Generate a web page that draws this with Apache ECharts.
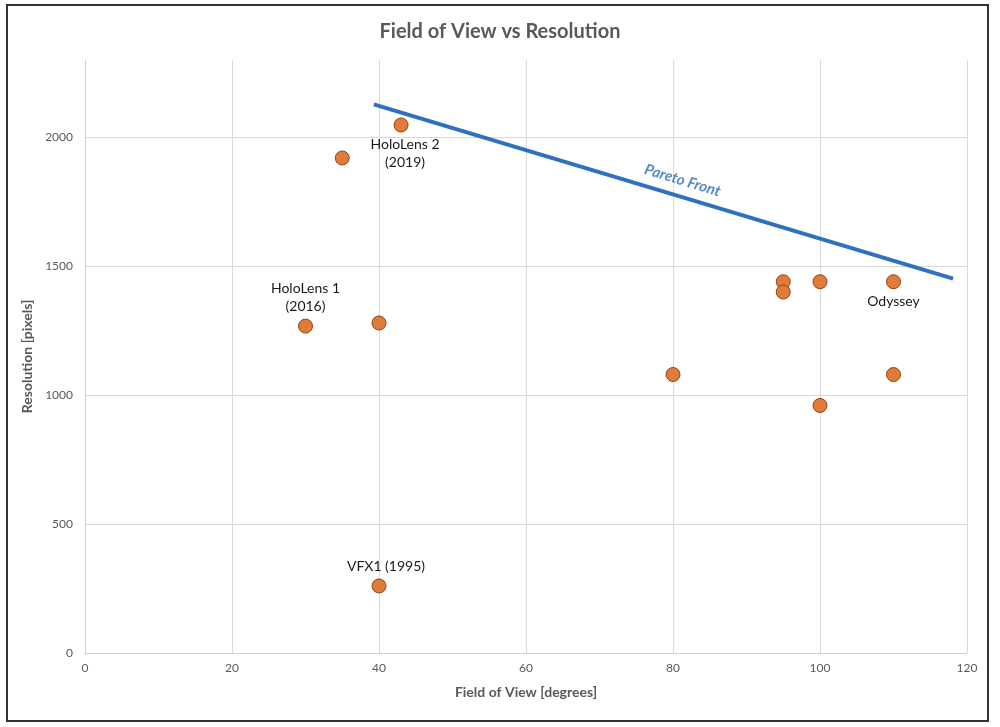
<!DOCTYPE html>
<html>
<head>
<meta charset="utf-8">
<script src="https://cdn.jsdelivr.net/npm/echarts@6/dist/echarts.min.js"></script>
<style>
html,body{margin:0;padding:0;background:#fff;}
#chart{width:1000px;height:727px;}
</style>
</head>
<body>
<div id="chart"></div>
<script>
// ---- data ----
const fov = [43, 35, 30, 40, 40, 80, 95, 95, 100, 100, 110, 110];
const resolution = [2048, 1920, 1268, 1280, 260, 1080, 1440, 1400, 1440, 960, 1440, 1080];
const pointLabels = ['HoloLens 2\n(2019)', '', 'HoloLens 1\n(2016)', '', 'VFX1 (1995)', '', '', '', '', '', 'Odyssey', ''];
const paretoX = [39.3, 118.1];
const paretoY = [2128, 1452];
const paretoLabel = 'Pareto Front';
const paretoLabelAt = [81.3, 1833];

const labelPlacement = {0: 'bottom', 2: 'top', 4: 'top', 10: 'bottom'};
const labelOffset = {0: [4, 0], 2: [0, 0], 4: [7, 0], 10: [0, 0]};

const font = 'Lato, "Noto Sans", sans-serif';
const scatterData = fov.map((x, i) => {
  const d = {value: [x, resolution[i]]};
  if (pointLabels[i]) {
    d.label = {
      show: true,
      formatter: pointLabels[i],
      position: labelPlacement[i],
      offset: labelOffset[i],
      distance: 3,
      fontFamily: font,
      fontSize: 14,
      lineHeight: 18,
      color: '#1a1a1a'
    };
  }
  return d;
});

const chart = echarts.init(document.getElementById('chart'), null, {renderer: 'canvas'});
chart.setOption({
  backgroundColor: '#fff',
  animation: false,
  title: {
    text: 'Field of View vs Resolution',
    left: 'center',
    top: 17,
    textStyle: {fontFamily: font, fontSize: 20, fontWeight: 'bold', color: '#595959'}
  },
  grid: {left: 85, right: 33, top: 60, bottom: 74, containLabel: false},
  xAxis: {
    type: 'value', min: 0, max: 120, interval: 20,
    name: 'Field of View [degrees]', nameLocation: 'middle', nameGap: 32,
    nameTextStyle: {fontFamily: font, fontSize: 14, fontWeight: 'bold', color: '#595959'},
    axisLine: {show: true, lineStyle: {color: '#d0d0d0', width: 1}},
    axisTick: {show: false},
    axisLabel: {fontFamily: font, fontSize: 12, color: '#595959', margin: 9, formatter: v => String(v)},
    splitLine: {show: true, lineStyle: {color: '#d9d9d9', width: 1}}
  },
  yAxis: {
    type: 'value', min: 0, max: 2300, interval: 500,
    name: 'Resolution [pixels]', nameLocation: 'middle', nameGap: 43, nameRotate: 90,
    nameTextStyle: {fontFamily: font, fontSize: 14, fontWeight: 'bold', color: '#595959'},
    axisLine: {show: true, lineStyle: {color: '#d0d0d0', width: 1}},
    axisTick: {show: false},
    axisLabel: {fontFamily: font, fontSize: 12, color: '#595959', margin: 12, showMaxLabel: false, formatter: v => String(v)},
    splitLine: {show: true, showMaxLine: false, lineStyle: {color: '#d9d9d9', width: 1}}
  },
  series: [
    {
      type: 'line',
      data: paretoX.map((x, i) => [x, paretoY[i]]),
      symbol: 'none',
      lineStyle: {color: '#2f70c1', width: 4},
      z: 3
    },
    {
      type: 'scatter',
      data: [{value: paretoLabelAt}],
      symbolSize: 0,
      silent: true,
      label: {
        show: true,
        position: 'inside',
        formatter: paretoLabel,
        rotate: -17,
        fontFamily: font,
        fontSize: 15,
        fontWeight: 'bold',
        fontStyle: 'italic',
        color: '#2a6bbd'
      },
      z: 4
    },
    {
      type: 'scatter',
      data: scatterData,
      symbol: 'circle',
      symbolSize: 14,
      itemStyle: {color: '#e07b39', borderColor: '#8e4416', borderWidth: 1, opacity: 1},
      z: 5
    }
  ],
  graphic: [{
    type: 'rect',
    shape: {x: 7, y: 5, width: 981, height: 716},
    style: {fill: 'none', stroke: '#333', lineWidth: 2},
    silent: true
  }]
});
</script>
</body>
</html>
